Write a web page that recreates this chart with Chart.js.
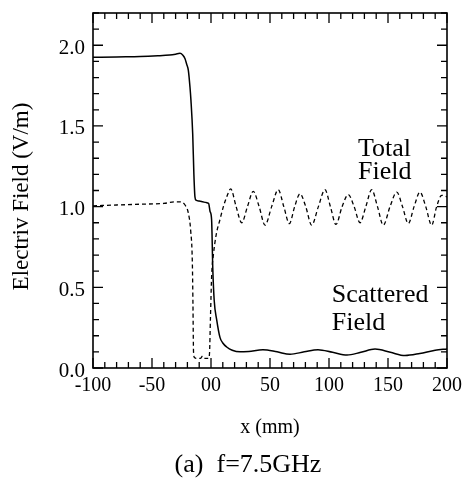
<!DOCTYPE html>
<html>
<head>
<meta charset="utf-8">
<script src="https://cdn.jsdelivr.net/npm/chart.js@4"></script>
<style>
  html, body { margin: 0; padding: 0; background: #fff; }
  #wrap { width: 464px; height: 480px; }
</style>
</head>
<body>
<div id="wrap"><canvas id="fieldChart" width="464" height="480"></canvas></div>
<script>
// solid curve (scattered field)
const solidX = [-100, -80, -60, -45, -35, -30, -26.3, -24, -22, -20.5, -19.2, -17.8, -17, -15.5, -14.5, -13.6, -12.7, -10, -7, -4, -2, -0.8, 0.5, 1.5, 2.7, 4.8, 7.6, 10, 13.3, 18, 24.6, 32, 44, 56, 67, 79, 90.7, 103, 115.3, 127, 139, 152, 164.4, 177, 190, 200];
const solidY = [1.925, 1.928, 1.93, 1.935, 1.94, 1.945, 1.95, 1.94, 1.917, 1.88, 1.845, 1.74, 1.66, 1.45, 1.2, 1.06, 1.04, 1.035, 1.03, 1.025, 1.02, 0.97, 0.92, 0.62, 0.42, 0.30, 0.19, 0.155, 0.13, 0.11, 0.10, 0.103, 0.113, 0.10, 0.085, 0.10, 0.113, 0.097, 0.08, 0.097, 0.117, 0.097, 0.077, 0.09, 0.11, 0.118];

// dashed curve (total field)
const dashX = [-100, -80, -60, -40, -30, -26, -22, -19.2, -17.2, -15.8, -15.3, -14.8, -14, -12, -9, -7, -5, -2, -1.2, -0.5, 0.6, 2, 4.5, 7.6, 10.5, 13.3, 16.7, 21.3, 26, 30.9, 35.8, 40.8, 45.8, 51.4, 57, 61.7, 66.4, 70.9, 75.4, 80.3, 85.3, 91, 96.6, 101.2, 105.9, 111.1, 116.4, 121.3, 126.3, 131.2, 136.2, 141.1, 146, 151.7, 157.4, 162.3, 167.2, 172.1, 177.1, 182, 187, 191.2, 195.5, 200];
const dashY = [1.005, 1.01, 1.015, 1.02, 1.03, 1.03, 1.01, 0.96, 0.85, 0.65, 0.4, 0.1, 0.065, 0.06, 0.06, 0.075, 0.06, 0.06, 0.1, 0.3, 0.58, 0.70, 0.83, 0.92, 1.0, 1.06, 1.11, 1.0, 0.9, 1.0, 1.095, 1.0, 0.885, 1.0, 1.105, 1.0, 0.895, 1.0, 1.08, 1.0, 0.885, 1.0, 1.105, 1.0, 0.89, 1.0, 1.075, 1.0, 0.90, 1.0, 1.105, 1.0, 0.885, 1.0, 1.09, 1.0, 0.895, 1.0, 1.09, 1.0, 0.885, 1.0, 1.07, 1.06];

// tick labels
const xLabels = { '-100': '-100', '-50': '-50', '0': '00', '50': '50', '100': '100', '150': '150', '200': '200' };
const yLabels = ['0.0', '0.5', '1.0', '1.5', '2.0'];

// texts
const yTitle = 'Electriv Field (V/m)';
const caption = '(a)  f=7.5GHz';
const notes = [
    { lines: ['Total', 'Field'], x: 124.6, y: 1.356, gap: 23 },
    { lines: ['Scattered', 'Field'], x: 102.3, y: 0.452, gap: 28 }
];

const serif = '"Liberation Serif", "DejaVu Serif", serif';

function isMultiple(v, step) {
    return Math.abs(v / step - Math.round(v / step)) < 1e-6;
}

// frame + inward ticks on all four sides, and the free texts
const framePlugin = {
    id: 'frame',
    afterDatasetsDraw(chart) {
        const { ctx, chartArea: a, scales } = chart;
        ctx.save();
        ctx.strokeStyle = '#000';
        ctx.lineWidth = 1.3;
        scales.x.ticks.forEach(t => {
            const px = scales.x.getPixelForValue(t.value);
            const len = isMultiple(t.value, 50) ? 10 : 6;
            ctx.beginPath();
            ctx.moveTo(px, a.bottom); ctx.lineTo(px, a.bottom - len);
            ctx.moveTo(px, a.top); ctx.lineTo(px, a.top + len);
            ctx.stroke();
        });
        scales.y.ticks.forEach(t => {
            const py = scales.y.getPixelForValue(t.value);
            const len = isMultiple(t.value, 0.5) ? 10 : 6;
            ctx.beginPath();
            ctx.moveTo(a.left, py); ctx.lineTo(a.left + len, py);
            ctx.moveTo(a.right, py); ctx.lineTo(a.right - len, py);
            ctx.stroke();
        });
        ctx.lineWidth = 1.6;
        ctx.strokeRect(a.left, a.top, a.right - a.left, a.bottom - a.top);

        ctx.fillStyle = '#000';
        ctx.font = '26px ' + serif;
        ctx.textAlign = 'left';
        ctx.textBaseline = 'middle';
        notes.forEach(n => {
            const px = scales.x.getPixelForValue(n.x);
            const py = scales.y.getPixelForValue(n.y);
            n.lines.forEach((s, i) => ctx.fillText(s, px, py + i * n.gap));
        });

        // caption under the axis title
        ctx.textAlign = 'center';
        ctx.font = '26px ' + serif;
        ctx.fillText(caption, (a.left + a.right) / 2 - 22, chart.height - 15);

        // y axis title
        ctx.save();
        ctx.translate(22, (a.top + a.bottom) / 2 + 6);
        ctx.rotate(-Math.PI / 2);
        ctx.font = '23px ' + serif;
        ctx.fillText(yTitle, 0, 0);
        ctx.restore();

        ctx.restore();
    }
};

const ctx = document.getElementById('fieldChart').getContext('2d');
new Chart(ctx, {
    type: 'line',
    data: {
        datasets: [{
            label: 'Scattered Field',
            data: solidX.map((x, i) => ({ x: x, y: solidY[i] })),
            borderColor: '#000',
            borderWidth: 1.5,
            pointRadius: 0,
            cubicInterpolationMode: 'monotone',
            fill: false
        }, {
            label: 'Total Field',
            data: dashX.map((x, i) => ({ x: x, y: dashY[i] })),
            borderColor: '#000',
            borderWidth: 1.3,
            borderDash: [4, 3],
            pointRadius: 0,
            cubicInterpolationMode: 'monotone',
            fill: false
        }]
    },
    options: {
        responsive: false,
        animation: false,
        events: [],
        layout: { padding: { top: 13, right: 17, bottom: 28, left: 0 } },
        plugins: {
            legend: { display: false },
            tooltip: { enabled: false }
        },
        scales: {
            x: {
                type: 'linear',
                min: -100,
                max: 200,
                border: { display: false },
                grid: { display: false, drawTicks: false },
                ticks: {
                    stepSize: 10,
                    autoSkip: false,
                    maxRotation: 0,
                    padding: 6,
                    color: '#000',
                    font: { family: serif, size: 20 },
                    callback: v => xLabels[String(Math.round(v))] && isMultiple(v, 50) ? xLabels[String(Math.round(v))] : ''
                },
                title: {
                    display: true,
                    text: 'x (mm)',
                    color: '#000',
                    font: { family: serif, size: 20, lineHeight: 1.2 },
                    padding: { top: 0, bottom: 12 }
                },
                afterFit: s => {
                    s.height = 84;
                    s.paddingLeft = 0;
                    s.paddingRight = 0;
                }
            },
            y: {
                min: 0,
                max: 2.2,
                border: { display: false },
                grid: { display: false, drawTicks: false },
                ticks: {
                    stepSize: 0.1,
                    autoSkip: false,
                    padding: 8,
                    labelOffset: 3,
                    color: '#000',
                    font: { family: serif, size: 21 },
                    callback: v => isMultiple(v, 0.5) ? yLabels[Math.round(v / 0.5)] : ''
                },
                afterFit: s => {
                    s.width = 93;
                    s.paddingTop = 0;
                    s.paddingBottom = 0;
                }
            }
        }
    },
    plugins: [framePlugin]
});
</script>
</body>
</html>
